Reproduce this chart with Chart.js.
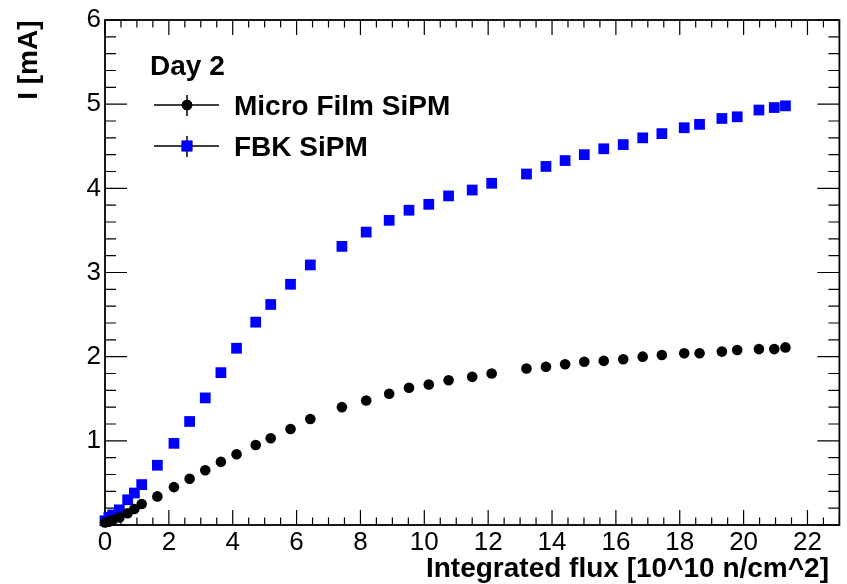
<!DOCTYPE html>
<html>
<head>
<meta charset="utf-8">
<script src="https://cdn.jsdelivr.net/npm/chart.js@4.4.1/dist/chart.umd.min.js"></script>
<style>
  html, body { margin: 0; padding: 0; background: #fff; }
  #chart { display: block; }
</style>
</head>
<body>
<canvas id="chart" width="847" height="584"></canvas>
<script>
// integrated flux [10^10 n/cm^2], same points for both SiPMs
const fluxValues = [0.0, 0.12, 0.24, 0.45, 0.71, 0.92, 1.15,
  1.64, 2.16, 2.65, 3.14, 3.63, 4.12, 4.72, 5.19, 5.81, 6.43, 7.42, 8.18, 8.90, 9.52,
  10.14, 10.76, 11.50, 12.11, 13.20, 13.81, 14.41, 15.01, 15.62, 16.23, 16.84, 17.44,
  18.14, 18.62, 19.32, 19.80, 20.48, 20.96, 21.31];
// current [mA]
const microFilmValues = [0.03, 0.04, 0.06, 0.09, 0.14, 0.19, 0.25,
  0.34, 0.45, 0.55, 0.65, 0.75, 0.84, 0.95, 1.03, 1.14, 1.26, 1.40, 1.48, 1.56, 1.63,
  1.67, 1.72, 1.76, 1.80, 1.86, 1.88, 1.91, 1.94, 1.95, 1.97, 2.00, 2.02,
  2.04, 2.04, 2.06, 2.08, 2.09, 2.09, 2.11];
const fbkValues = [0.05, 0.09, 0.12, 0.18, 0.30, 0.38, 0.48,
  0.71, 0.97, 1.23, 1.51, 1.81, 2.10, 2.41, 2.62, 2.86, 3.09, 3.31, 3.48, 3.62, 3.74,
  3.81, 3.91, 3.98, 4.06, 4.17, 4.26, 4.33, 4.40, 4.47, 4.52, 4.60, 4.65,
  4.72, 4.76, 4.83, 4.85, 4.93, 4.96, 4.98];
const seriesNames = ['Micro Film SiPM', 'FBK SiPM'];
const legendHeader = 'Day 2';
const xTicks = [0, 2, 4, 6, 8, 10, 12, 14, 16, 18, 20, 22];
const yTicks = [1, 2, 3, 4, 5, 6];
const xTitle = 'Integrated flux [10^10 n/cm^2]';
const yTitle = 'I [mA]';

const FONT = '"Liberation Sans", Arial, Helvetica, sans-serif';

function toPoints(xs, ys) {
  return xs.map((x, i) => ({ x: x, y: ys[i] }));
}

// ROOT-like frame with inward ticks on all four sides
const frameTicks = {
  id: 'frameTicks',
  beforeDatasetsDraw(chart) {
    const { ctx, chartArea: a, scales: { x, y } } = chart;
    ctx.save();
    ctx.strokeStyle = '#000';
    ctx.lineWidth = 1.8;
    ctx.strokeRect(a.left, a.top, a.right - a.left, a.bottom - a.top);
    ctx.lineWidth = 1.2;
    ctx.beginPath();
    for (let i = 0; i <= 46; i++) {
      const v = i * 0.5;
      const px = x.getPixelForValue(v);
      const len = (i % 4 === 0) ? 15 : 7.5;
      ctx.moveTo(px, a.bottom); ctx.lineTo(px, a.bottom - len);
      ctx.moveTo(px, a.top); ctx.lineTo(px, a.top + len);
    }
    for (let i = 0; i <= 30; i++) {
      const v = i * 0.2;
      const py = y.getPixelForValue(v);
      const len = (i % 5 === 0) ? 22 : 11;
      ctx.moveTo(a.left, py); ctx.lineTo(a.left + len, py);
      ctx.moveTo(a.right, py); ctx.lineTo(a.right - len, py);
    }
    ctx.stroke();
    ctx.restore();
  }
};

// legend box + axis titles
const legendAndTitles = {
  id: 'legendAndTitles',
  afterDraw(chart) {
    const { ctx } = chart;
    ctx.save();
    ctx.fillStyle = '#000';
    ctx.font = 'bold 28px ' + FONT;
    ctx.textBaseline = 'alphabetic';
    ctx.textAlign = 'left';
    ctx.fillText(legendHeader, 150, 75);

    const rows = [105, 146];
    chart.data.datasets.forEach((ds, i) => {
      const cy = rows[i];
      const cx = 187;
      ctx.strokeStyle = '#000';
      ctx.lineWidth = 1.5;
      ctx.beginPath();
      ctx.moveTo(154, cy); ctx.lineTo(219, cy);
      ctx.moveTo(cx, cy - 10); ctx.lineTo(cx, cy + 11);
      ctx.stroke();
      Chart.helpers.drawPoint(ctx, {
        pointStyle: ds.pointStyle,
        radius: ds.pointRadius,
        borderWidth: 0,
        rotation: 0
      }, cx, cy);
      ctx.fillStyle = ds.backgroundColor;
      ctx.fill();
      ctx.fillStyle = '#000';
      ctx.fillText(ds.label, 234, cy + 10);
    });

    ctx.textAlign = 'right';
    ctx.fillText(xTitle, 829, 577);

    ctx.translate(37, 20.5);
    ctx.rotate(-Math.PI / 2);
    ctx.fillText(yTitle, 0, 0);
    ctx.restore();
  }
};

const ctx = document.getElementById('chart').getContext('2d');
const myChart = new Chart(ctx, {
  type: 'scatter',
  data: {
    datasets: [{
      label: seriesNames[0],
      data: toPoints(fluxValues, microFilmValues),
      pointStyle: 'circle',
      pointRadius: 5.3,
      backgroundColor: '#000',
      borderWidth: 0,
      clip: false
    }, {
      label: seriesNames[1],
      data: toPoints(fluxValues, fbkValues),
      pointStyle: 'rect',
      pointRadius: 7.6,
      backgroundColor: '#0000ff',
      borderWidth: 0,
      clip: false
    }]
  },
  options: {
    responsive: false,
    animation: false,
    events: [],
    layout: { padding: { left: 0, top: 20, right: 1, bottom: 0 } },
    plugins: { legend: { display: false }, tooltip: { enabled: false } },
    scales: {
      x: {
        type: 'linear',
        min: 0,
        max: 23,
        afterBuildTicks: (scale) => { scale.ticks = xTicks.map(v => ({ value: v })); },
        afterFit: (scale) => { scale.height = 59; },
        grid: { display: false, drawTicks: false },
        border: { display: false },
        ticks: { color: '#000', padding: 2, maxRotation: 0, font: { family: FONT, size: 26 } }
      },
      y: {
        type: 'linear',
        min: 0,
        max: 6,
        afterBuildTicks: (scale) => { scale.ticks = yTicks.map(v => ({ value: v })); },
        afterFit: (scale) => { scale.width = 105; },
        grid: { display: false, drawTicks: false },
        border: { display: false },
        ticks: { color: '#000', padding: 4, font: { family: FONT, size: 26 } }
      }
    }
  },
  plugins: [frameTicks, legendAndTitles]
});
</script>
</body>
</html>
